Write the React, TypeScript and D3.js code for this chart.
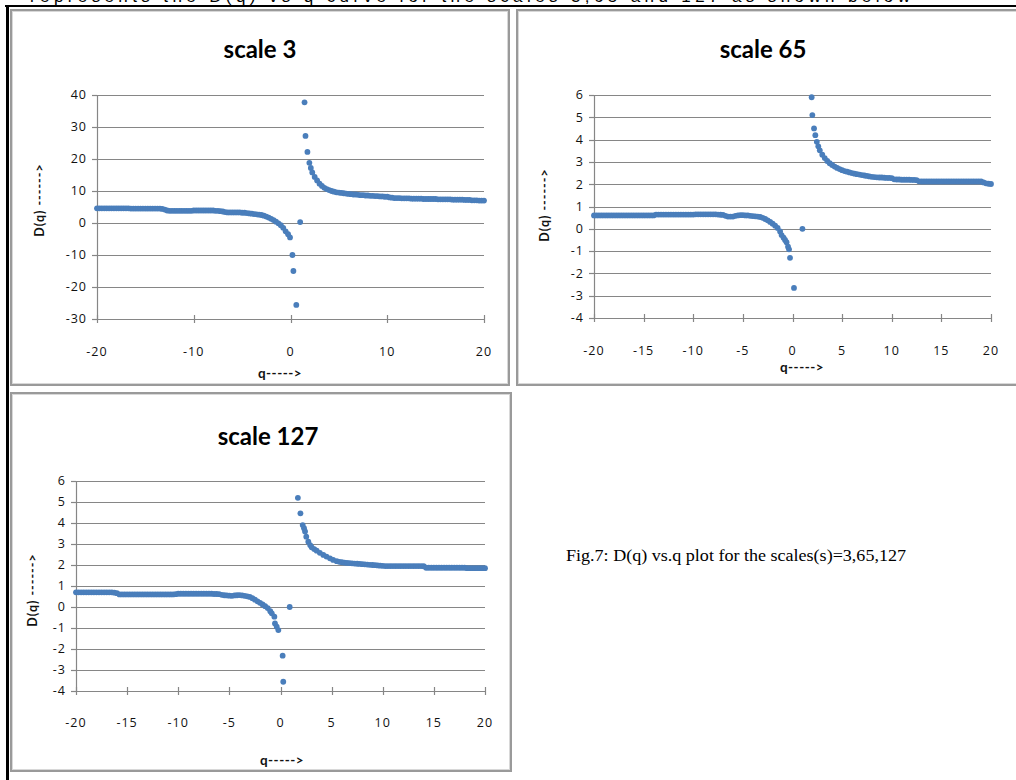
import React from 'react';
import * as d3 from 'd3';

const HEADER_TEXT = 'represents the D(q) vs q curve for the scales 3,65 and 127 as shown below';
const CAPTION = 'Fig.7: D(q) vs.q plot for the scales(s)=3,65,127';
const X_LABEL = 'q----->';
const Y_LABEL = 'D(q) ------>';

const X_TICKS_WIDE = [-20, -10, 0, 10, 20];
const X_TICKS_FINE = [-20, -15, -10, -5, 0, 5, 10, 15, 20];
const Y_TICKS_3 = [-30, -20, -10, 0, 10, 20, 30, 40];
const Y_TICKS_65 = [-4, -3, -2, -1, 0, 1, 2, 3, 4, 5, 6];
const Y_TICKS_127 = [-4, -3, -2, -1, 0, 1, 2, 3, 4, 5, 6];

// [q, D(q)]
const scale3: [number, number][] = [
  [-20,4.6],[-19.75,4.6],[-19.5,4.6],[-19.25,4.6],[-19,4.6],[-18.75,4.6],[-18.5,4.6],[-18.25,4.6],[-18,4.6],[-17.75,4.6],[-17.5,4.6],[-17.25,4.6],[-17,4.6],[-16.75,4.6],[-16.5,4.5],[-16.25,4.5],[-16,4.5],[-15.75,4.5],[-15.5,4.5],[-15.25,4.5],[-15,4.5],[-14.75,4.5],[-14.5,4.5],[-14.25,4.5],[-14,4.5],[-13.75,4.5],[-13.5,4.5],[-13.25,4.4],[-13,4.2],
  [-12.75,3.9],[-12.5,3.8],[-12.25,3.8],[-12,3.8],[-11.75,3.8],[-11.5,3.8],[-11.25,3.8],[-11,3.8],[-10.75,3.8],[-10.5,3.8],[-10.25,3.8],[-10,3.9],[-9.75,3.9],[-9.5,3.9],[-9.25,3.9],[-9,3.9],[-8.75,3.9],[-8.5,3.9],[-8.25,3.9],[-8,3.9],[-7.75,3.8],[-7.5,3.8],[-7.25,3.7],[-7,3.6],
  [-6.75,3.4],[-6.5,3.3],[-6.25,3.3],[-6,3.3],[-5.75,3.3],[-5.5,3.3],[-5.25,3.3],[-5,3.2],[-4.75,3.2],[-4.5,3.1],[-4.25,3.0],[-4,2.9],[-3.75,2.8],[-3.5,2.7],[-3.25,2.6],[-3,2.5],[-2.75,2.3],[-2.5,2.0],[-2.25,1.7],[-2,1.3],[-1.75,0.9],[-1.5,0.4],[-1.25,-0.1],[-1,-0.7],[-0.75,-1.5],[-0.5,-2.6],[-0.25,-3.5],[-0.05,-4.5],[0.2,-10],[0.3,-15],[0.6,-25.6],[1,0.3],
  [1.45,37.7],[1.55,27.2],[1.75,22.2],[1.95,18.8],[2.1,17.2],[2.25,15.8],[2.5,14.4],[2.75,13.3],[3,12.3],[3.25,11.6],[3.5,11.0],[3.75,10.6],[4,10.3],[4.25,10.0],[4.5,9.8],[4.75,9.6],[5,9.5],[5.25,9.4],[5.5,9.3],[5.75,9.2],[6,9.1],[6.25,9.0],[6.5,8.9],[6.75,8.9],[7,8.8],[7.25,8.7],[7.5,8.7],[7.75,8.6],[8,8.6],[8.25,8.5],[8.5,8.5],[8.75,8.4],[9,8.4],[9.25,8.3],[9.5,8.3],[9.75,8.2],[10,8.2],
  [10.25,8.0],[10.5,7.9],[10.75,7.8],[11,7.8],[11.25,7.8],[11.5,7.7],[11.75,7.7],[12,7.7],[12.25,7.7],[12.5,7.6],[12.75,7.6],[13,7.6],[13.25,7.6],[13.5,7.6],[13.75,7.5],[14,7.5],[14.25,7.5],[14.5,7.5],[14.75,7.5],[15,7.5],[15.25,7.4],[15.5,7.4],[15.75,7.4],[16,7.4],[16.25,7.4],[16.5,7.4],[16.75,7.3],[17,7.3],[17.25,7.3],[17.5,7.3],[17.75,7.3],[18,7.2],[18.25,7.2],[18.5,7.2],[18.75,7.1],[19,7.1],[19.25,7.1],[19.5,7.0],[19.75,7.0],[20,7.0],
];

const scale65: [number, number][] = [
  [-20,0.6],[-19.75,0.6],[-19.5,0.6],[-19.25,0.6],[-19,0.6],[-18.75,0.6],[-18.5,0.6],[-18.25,0.6],[-18,0.6],[-17.75,0.6],[-17.5,0.6],[-17.25,0.6],[-17,0.6],[-16.75,0.6],[-16.5,0.6],[-16.25,0.6],[-16,0.6],[-15.75,0.6],[-15.5,0.6],[-15.25,0.6],[-15,0.6],[-14.75,0.6],[-14.5,0.6],[-14.25,0.6],[-14,0.6],
  [-13.75,0.64],[-13.5,0.64],[-13.25,0.64],[-13,0.64],[-12.75,0.64],[-12.5,0.64],[-12.25,0.64],[-12,0.64],[-11.75,0.64],[-11.5,0.64],[-11.25,0.64],[-11,0.64],[-10.75,0.64],[-10.5,0.64],[-10.25,0.64],[-10,0.64],[-9.75,0.65],[-9.5,0.65],[-9.25,0.65],[-9,0.65],[-8.75,0.65],[-8.5,0.65],[-8.25,0.65],[-8,0.65],[-7.75,0.65],[-7.5,0.64],[-7.25,0.63],[-7,0.62],
  [-6.75,0.58],[-6.5,0.55],[-6.25,0.55],[-6,0.55],[-5.75,0.58],[-5.5,0.6],[-5.25,0.61],[-5,0.61],[-4.75,0.6],[-4.5,0.6],[-4.25,0.58],[-4,0.57],[-3.75,0.56],[-3.5,0.55],[-3.25,0.53],[-3,0.49],[-2.75,0.44],[-2.5,0.38],[-2.25,0.31],[-2,0.23],[-1.75,0.14],[-1.5,0.04],[-1.25,-0.12],[-1.1,-0.28],[-0.9,-0.4],[-0.75,-0.5],[-0.6,-0.6],[-0.45,-0.8],[-0.35,-0.92],[-0.25,-1.3],[0.15,-2.65],[1.0,0],
  [1.93,5.9],[2.0,5.1],[2.17,4.5],[2.3,4.2],[2.45,3.9],[2.6,3.7],[2.75,3.52],[3,3.32],[3.25,3.17],[3.5,3.04],[3.75,2.94],[4,2.86],[4.25,2.79],[4.5,2.73],[4.75,2.68],[5,2.63],[5.25,2.59],[5.5,2.56],[5.75,2.53],[6,2.5],[6.25,2.47],[6.5,2.45],[6.75,2.43],[7,2.41],[7.25,2.39],[7.5,2.37],[7.75,2.35],[8,2.33],[8.25,2.32],[8.5,2.31],[8.75,2.3],[9,2.3],[9.25,2.29],[9.5,2.28],[9.75,2.28],[10,2.27],
  [10.25,2.22],[10.5,2.21],[10.75,2.21],[11,2.2],[11.25,2.2],[11.5,2.2],[11.75,2.2],[12,2.19],[12.25,2.19],[12.5,2.18],[12.75,2.13],[13,2.12],[13.25,2.12],[13.5,2.12],[13.75,2.12],[14,2.12],[14.25,2.12],[14.5,2.12],[14.75,2.12],[15,2.12],[15.25,2.12],[15.5,2.12],[15.75,2.12],[16,2.12],[16.25,2.12],[16.5,2.12],[16.75,2.12],[17,2.12],[17.25,2.12],[17.5,2.12],[17.75,2.12],[18,2.12],[18.25,2.12],[18.5,2.12],[18.75,2.12],[19,2.12],[19.25,2.08],[19.5,2.04],[19.75,2.02],[20,2.01],
];

const scale127: [number, number][] = [
  [-20,0.7],[-19.75,0.7],[-19.5,0.7],[-19.25,0.7],[-19,0.7],[-18.75,0.7],[-18.5,0.7],[-18.25,0.7],[-18,0.7],[-17.75,0.7],[-17.5,0.7],[-17.25,0.7],[-17,0.7],[-16.75,0.7],[-16.5,0.7],[-16.25,0.68],[-16,0.66],
  [-15.75,0.6],[-15.5,0.6],[-15.25,0.6],[-15,0.6],[-14.75,0.6],[-14.5,0.6],[-14.25,0.6],[-14,0.6],[-13.75,0.6],[-13.5,0.6],[-13.25,0.6],[-13,0.6],[-12.75,0.6],[-12.5,0.6],[-12.25,0.6],[-12,0.6],[-11.75,0.6],[-11.5,0.6],[-11.25,0.6],[-11,0.6],[-10.75,0.6],[-10.5,0.6],[-10.25,0.61],
  [-10,0.63],[-9.75,0.63],[-9.5,0.63],[-9.25,0.63],[-9,0.63],[-8.75,0.63],[-8.5,0.63],[-8.25,0.63],[-8,0.63],[-7.75,0.63],[-7.5,0.63],[-7.25,0.63],[-7,0.63],[-6.75,0.63],[-6.5,0.62],[-6.25,0.62],[-6,0.61],
  [-5.75,0.58],[-5.5,0.56],[-5.25,0.55],[-5,0.54],[-4.75,0.53],[-4.5,0.55],[-4.25,0.56],[-4,0.57],[-3.75,0.55],[-3.5,0.53],[-3.25,0.51],[-3,0.48],[-2.75,0.42],[-2.5,0.35],[-2.25,0.27],[-2,0.2],[-1.75,0.12],[-1.5,0.04],[-1.25,-0.05],[-1,-0.2],[-0.85,-0.3],[-0.6,-0.46],[-0.54,-0.78],[-0.37,-0.94],[-0.21,-1.1],[0.21,-2.32],[0.27,-3.56],[0.9,0],
  [1.7,5.2],[1.95,4.46],[2.17,3.9],[2.3,3.75],[2.4,3.6],[2.52,3.35],[2.72,3.11],[2.9,2.95],[3.05,2.84],[3.3,2.76],[3.54,2.68],[3.85,2.58],[4.19,2.48],[4.5,2.4],[4.84,2.32],[5.15,2.24],[5.5,2.18],[5.75,2.15],[6,2.13],[6.25,2.11],[6.5,2.1],[6.75,2.09],[7,2.08],[7.25,2.07],[7.5,2.06],[7.75,2.05],[8,2.04],[8.25,2.03],[8.5,2.02],[8.75,2.01],[9,2.0],[9.25,1.99],[9.5,1.98],[9.75,1.97],[10,1.96],
  [10.25,1.95],[10.5,1.95],[10.75,1.95],[11,1.95],[11.25,1.95],[11.5,1.95],[11.75,1.95],[12,1.95],[12.25,1.95],[12.5,1.95],[12.75,1.95],[13,1.95],[13.25,1.95],[13.5,1.95],[13.75,1.95],[14,1.94],
  [14.25,1.87],[14.5,1.87],[14.75,1.87],[15,1.87],[15.25,1.87],[15.5,1.87],[15.75,1.87],[16,1.87],[16.25,1.87],[16.5,1.87],[16.75,1.87],[17,1.87],[17.25,1.87],[17.5,1.87],[17.75,1.87],[18,1.87],
  [18.25,1.85],[18.5,1.85],[18.75,1.85],[19,1.85],[19.25,1.85],[19.5,1.85],[19.75,1.85],[20,1.85],
];

const DOT = '#4A7EBB';
const GRID = '#868686';
const TICK_FONT = '"Open Sans", "DejaVu Sans", sans-serif';
const TITLE_FONT = 'Lato, "Open Sans", sans-serif';

type PanelProps = {
  box: [number, number, number, number];
  title: string;
  titleX: number;
  titleY: number;
  xRange: [number, number];
  yRange: [number, number];
  yDomain: [number, number];
  xTicks: number[];
  yTicks: number[];
  data: [number, number][];
  xTickLabelY: number;
  qLabel: [number, number];
  dLabel: [number, number];
};

function Panel(p: PanelProps) {
  const x = d3.scaleLinear().domain([-20, 20]).range(p.xRange);
  const y = d3.scaleLinear().domain(p.yDomain).range(p.yRange);
  const [bx, by, bw, bh] = p.box;
  const x0 = p.xRange[0];
  const x1 = p.xRange[1];
  const yb = y(p.yDomain[0]);
  const yt = y(p.yDomain[1]);
  return (
    <g>
      <rect x={bx} y={by} width={bw} height={bh} fill="#fff" stroke="#9a9a9a" strokeWidth={2} />
      <rect x={bx + 1.5} y={by + 1.5} width={bw - 3} height={bh - 3} fill="none" stroke="#d8d8d8" strokeWidth={1} />
      <text x={p.titleX} y={p.titleY} textAnchor="middle" fontFamily={TITLE_FONT} fontWeight="bold" fontSize={24} fill="#000">
        {p.title}
      </text>
      {p.yTicks.map((t) => (
        <line key={'g' + t} x1={x0} x2={x1} y1={Math.round(y(t)) + 0.5} y2={Math.round(y(t)) + 0.5} stroke={GRID} strokeWidth={1.2} />
      ))}
      <line x1={x0 + 0.5} x2={x0 + 0.5} y1={yt} y2={yb} stroke={GRID} strokeWidth={1.2} />
      {p.yTicks.map((t) => (
        <line key={'yt' + t} x1={x0 - 5} x2={x0} y1={Math.round(y(t)) + 0.5} y2={Math.round(y(t)) + 0.5} stroke={GRID} strokeWidth={1.2} />
      ))}
      {p.xTicks.map((t) => (
        <line key={'xt' + t} x1={Math.round(x(t)) + 0.5} x2={Math.round(x(t)) + 0.5} y1={yb - 4} y2={yb + 4} stroke={GRID} strokeWidth={1.2} />
      ))}
      {p.yTicks.map((t) => (
        <text key={'yl' + t} x={x0 - 10} y={y(t)} dy="0.35em" textAnchor="end" fontFamily={TICK_FONT} fontSize={12.5} letterSpacing={1} fill="#111">
          {t}
        </text>
      ))}
      {p.xTicks.map((t) => (
        <text key={'xl' + t} x={x(t)} y={p.xTickLabelY} dy="0.35em" textAnchor="middle" fontFamily={TICK_FONT} fontSize={12.5} letterSpacing={1} fill="#111">
          {t}
        </text>
      ))}
      {p.data
        .filter((d) => d[1] >= p.yDomain[0] && d[1] <= p.yDomain[1])
        .map((d, i) => (
          <circle key={'p' + i} cx={x(d[0])} cy={y(d[1])} r={2.9} fill={DOT} />
        ))}
      <text x={p.qLabel[0]} y={p.qLabel[1]} dy="0.35em" textAnchor="middle" fontFamily={TITLE_FONT} fontWeight="bold" fontSize={13.5} letterSpacing={0.5} fill="#111">
        {X_LABEL}
      </text>
      <text
        transform={`translate(${p.dLabel[0]},${p.dLabel[1]}) rotate(-90)`}
        dy="0.35em"
        textAnchor="middle"
        fontFamily={TITLE_FONT}
        fontWeight="bold"
        fontSize={12.5}
        letterSpacing={1}
        fill="#111"
      >
        {Y_LABEL}
      </text>
    </g>
  );
}

export default function App() {
  return (
    <svg width={1016} height={780} style={{ position: 'absolute', left: 0, top: 0, display: 'block', background: '#fff' }}>
      <rect x={0} y={0} width={1016} height={780} fill="#fff" />
      <text x={30} y={1.5} fontFamily='"Liberation Sans", Arial, sans-serif' fontSize={17} fill="#000" textLength={880} lengthAdjust="spacing">
        {HEADER_TEXT}
      </text>
      <line x1={5} x2={1016} y1={6} y2={6} stroke="#000" strokeWidth={2} />
      <line x1={7.5} x2={7.5} y1={5} y2={780} stroke="#000" strokeWidth={3} />
      <Panel
        box={[11, 10, 498, 375]}
        title="scale 3"
        titleX={260}
        titleY={58}
        xRange={[97, 484]}
        yRange={[319, 95]}
        yDomain={[-30, 40]}
        xTicks={X_TICKS_WIDE}
        yTicks={Y_TICKS_3}
        data={scale3}
        xTickLabelY={352}
        qLabel={[280, 373]}
        dLabel={[40, 200]}
      />
      <Panel
        box={[517, 10, 520, 375]}
        title="scale 65"
        titleX={763}
        titleY={58}
        xRange={[594, 991]}
        yRange={[318, 95]}
        yDomain={[-4, 6]}
        xTicks={X_TICKS_FINE}
        yTicks={Y_TICKS_65}
        data={scale65}
        xTickLabelY={351}
        qLabel={[802, 367]}
        dLabel={[545, 205]}
      />
      <Panel
        box={[11, 393, 500, 378]}
        title="scale 127"
        titleX={268}
        titleY={445}
        xRange={[76, 485]}
        yRange={[691, 481]}
        yDomain={[-4, 6]}
        xTicks={X_TICKS_FINE}
        yTicks={Y_TICKS_127}
        data={scale127}
        xTickLabelY={723}
        qLabel={[282, 760]}
        dLabel={[33, 590]}
      />
      <text x={566} y={561} fontFamily='"Liberation Serif", "Times New Roman", serif' fontSize={17} fill="#000" textLength={340} lengthAdjust="spacingAndGlyphs">
        {CAPTION}
      </text>
    </svg>
  );
}
